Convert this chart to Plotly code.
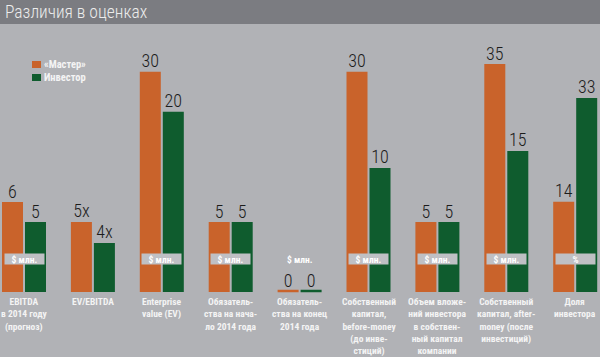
import plotly.graph_objects as go

# ---- data ----
series_names = ["«Мастер»", "Инвестор"]
categories = [
    "EBITDA<br>в 2014 году<br>(прогноз)",
    "EV/EBITDA",
    "Enterprise<br>value (EV)",
    "Обязатель-<br>ства на нача-<br>ло 2014 года",
    "Обязатель-<br>ства на конец<br>2014 года",
    "Собственный<br>капитал,<br>before-money<br>(до инве-<br>стиций)",
    "Объем вложе-<br>ний инвестора<br>в собствен-<br>ный капитал<br>компании",
    "Собственный<br>капитал, after-<br>money (после<br>инвестиций)",
    "Доля<br>инвестора",
]
master = [6, 5, 30, 5, 0, 30, 5, 35, 14]
investor = [5, 4, 20, 5, 0, 10, 5, 15, 33]
master_text = ["6", "5x", "30", "5", "0", "30", "5", "35", "14"]
investor_text = ["5", "4x", "20", "5", "0", "10", "5", "15", "33"]
units = ["$ млн.", "", "$ млн.", "$ млн.", "$ млн.", "$ млн.", "$ млн.", "$ млн.", "%"]
unit_boxed = [True, False, True, True, False, True, True, True, True]

# ---- style / layout ----
W, H = 600, 357
MT, MB = 40, 65
PH = H - MT - MB
ORANGE = "#c9632b"
GREEN = "#0f5c2e"
BG = "#b1b2b6"
BAR_BG = "#7b7c81"
FONT = "Roboto Condensed, DejaVu Sans Condensed, sans-serif"
colors = [ORANGE, GREEN]

# per-group value scales (the source draws each group on its own scale)
y_types = ["log", "log", "log", "log", "linear", "log", "log", "log", "log"]
y_ranges = [
    [0.4219, 1.4195],
    [0.3759, 1.5388],
    [0.5075, 1.6167],
    [0.3808, 1.5263],
    [-0.1, 25.1],
    [0.3854, 1.6342],
    [0.3808, 1.5263],
    [0.5796, 1.6456],
    [0.8219, 1.7267],
]
group_left = 2.0
group_step = 68.9
group_w = 46.0

fig = go.Figure()
layout = dict(
    width=W, height=H,
    margin=dict(l=0, r=0, t=MT, b=MB),
    paper_bgcolor=BG, plot_bgcolor=BG,
    showlegend=False,
    bargap=2 / 23,
    font=dict(family=FONT),
)
annotations = []
shapes = []

for i in range(len(categories)):
    s = "" if i == 0 else str(i + 1)
    x0 = (group_left - 1 + group_step * i) / W
    x1 = x0 + group_w / W
    vals = [master[i], investor[i]]
    txts = [master_text[i], investor_text[i]]
    fig.add_trace(go.Bar(
        x=series_names, y=vals,
        marker=dict(color=colors, line=dict(width=0)),
        xaxis="x" + s, yaxis="y" + s, hoverinfo="skip",
    ))
    zero_idx = [k for k, v in enumerate(vals) if v == 0]
    if zero_idx:
        fig.add_trace(go.Scatter(
            x=[series_names[k] for k in zero_idx],
            y=[vals[k] for k in zero_idx],
            mode="markers", cliponaxis=False,
            marker=dict(symbol="line-ew", size=15,
                        line=dict(width=2.5, color=[colors[k] for k in zero_idx])),
            xaxis="x" + s, yaxis="y" + s, hoverinfo="skip",
        ))
    # value labels
    fig.add_trace(go.Scatter(
        x=series_names, y=vals, text=txts,
        mode="text", textposition="top center", cliponaxis=False,
        textfont=dict(family=FONT, size=18, color="#1c1c1c", weight=300),
        xaxis="x" + s, yaxis="y" + s, hoverinfo="skip",
    ))
    layout["xaxis" + s] = dict(
        domain=[x0, x1], anchor="y" + s, type="category",
        range=[-0.5, 1.5], showticklabels=False, showgrid=False,
        zeroline=False, showline=False, ticks="",
    )
    layout["yaxis" + s] = dict(
        domain=[0, 1], anchor="x" + s, type=y_types[i], range=y_ranges[i],
        showticklabels=False, showgrid=False, zeroline=False, showline=False, ticks="",
    )
    annotations.append(dict(
        xref="x" + s + " domain", x=0.5, yref="paper", y=0, yanchor="top",
        xanchor="center", yshift=-3, showarrow=False, align="center",
        text="<b>" + categories[i] + "</b>", borderpad=0,
        font=dict(family=FONT, size=9.5, color="#f4f4f4"),
    ))
    if units[i]:
        u = dict(
            xref="x" + s + " domain", x=0.5, yref="y" + s + " domain",
            y=33 / PH, yanchor="middle", xanchor="center",
            showarrow=False, text="<b>" + units[i] + "</b>",
            font=dict(family=FONT, size=9.5, color="#ffffff"),
        )
        if unit_boxed[i]:
            u.update(bgcolor="#bfc0c4", width=39, height=10, borderpad=0)
        annotations.append(u)

# title bar
shapes.append(dict(type="rect", xref="paper", yref="paper",
                   x0=0, x1=1, y0=(PH + MT - 24) / PH, y1=(PH + MT) / PH,
                   fillcolor=BAR_BG, line=dict(width=0), layer="below"))
annotations.append(dict(
    xref="paper", yref="paper", x=3 / W, y=(PH + MT - 12) / PH,
    xanchor="left", yanchor="middle", showarrow=False,
    text="Различия в оценках",
    font=dict(family=FONT, size=17.5, color="#ececec", weight=300),
))
# legend swatches + names
for k, name in enumerate(series_names):
    ytop = 61 + 13 * k
    shapes.append(dict(type="rect", xref="paper", yref="paper",
                       x0=32 / W, x1=41 / W,
                       y0=(PH + MT - ytop - 7) / PH, y1=(PH + MT - ytop) / PH,
                       fillcolor=colors[k], line=dict(width=0)))
    annotations.append(dict(
        xref="paper", yref="paper", x=42 / W, y=(PH + MT - ytop - 3.5) / PH,
        xanchor="left", yanchor="middle", showarrow=False,
        text="<b>" + name + "</b>",
        font=dict(family=FONT, size=10.5, color="#f4f4f4"),
    ))

layout["annotations"] = annotations
layout["shapes"] = shapes
fig.update_layout(**layout)
fig.write_html("out.html", config={"displayModeBar": False},
               post_script="document.body.style.margin='0';")
